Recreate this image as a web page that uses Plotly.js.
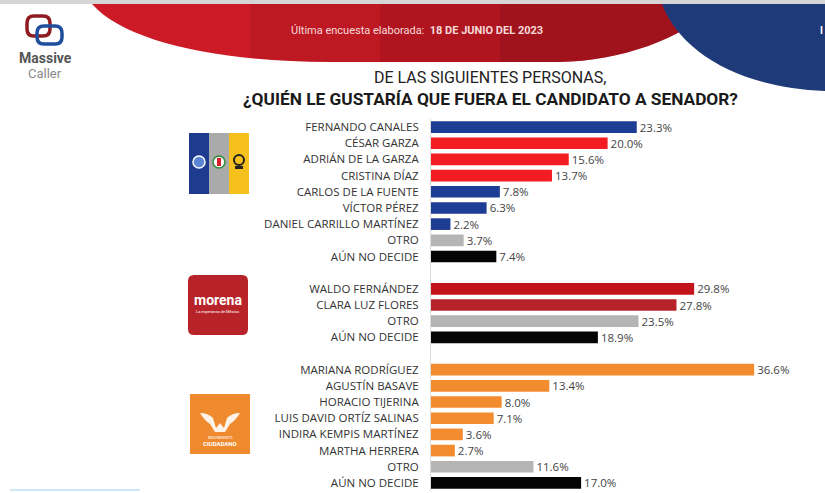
<!DOCTYPE html>
<html>
<head>
<meta charset="utf-8">
<script src="https://cdn.plot.ly/plotly-3.0.1.min.js"></script>
<style>html,body{margin:0;padding:0;background:#fff;}#chart{width:825px;height:493px;}</style>
</head>
<body>
<div id="chart"></div>
<script>
// ---- Data ----
const alianzaNames = ["FERNANDO CANALES","CÉSAR GARZA","ADRIÁN DE LA GARZA","CRISTINA DÍAZ","CARLOS DE LA FUENTE","VÍCTOR PÉREZ","DANIEL CARRILLO MARTÍNEZ","OTRO","AÚN NO DECIDE"];
const alianzaValues = [23.3, 20.0, 15.6, 13.7, 7.8, 6.3, 2.2, 3.7, 7.4];
const morenaNames = ["WALDO FERNÁNDEZ","CLARA LUZ FLORES","OTRO","AÚN NO DECIDE"];
const morenaValues = [29.8, 27.8, 23.5, 18.9];
const mcNames = ["MARIANA RODRÍGUEZ","AGUSTÍN BASAVE","HORACIO TIJERINA","LUIS DAVID ORTÍZ SALINAS","INDIRA KEMPIS MARTÍNEZ","MARTHA HERRERA","OTRO","AÚN NO DECIDE"];
const mcValues = [36.6, 13.4, 8.0, 7.1, 3.6, 2.7, 11.6, 17.0];

// ---- Styles ----
const BLUE="#1d3c93", RED="#f21c22", GRAY="#b5b5b5", BLACK="#050505";
const alianzaColors=[BLUE,RED,RED,RED,BLUE,BLUE,BLUE,GRAY,BLACK];
const morenaColors=["#c3141b","#b8232a",GRAY,BLACK];
const ORANGE="#f28c2e";
const mcColors=[ORANGE,ORANGE,ORANGE,ORANGE,ORANGE,ORANGE,GRAY,BLACK];

// build rows with a blank slot between groups
const groups=[[alianzaNames,alianzaValues,alianzaColors],[morenaNames,morenaValues,morenaColors],[mcNames,mcValues,mcColors]];
let ys=[],xs=[],labels=[],cols=[],pos=0;
groups.forEach((g,gi)=>{
  g[0].forEach((n,i)=>{ys.push(pos);xs.push(g[1][i]);labels.push(n);cols.push(g[2][i]);pos++;});
  pos++;
});
const lastIdx=ys[ys.length-1];

const W=825,H=493;
const plotLeft=431, plotTop=119, plotBottom=491;
const pxPerPct=8.83;

const FONT="Open Sans, sans-serif";

const traces=[{
  type:"bar",orientation:"h",x:xs,y:ys,
  marker:{color:cols,line:{width:0}},
  width:0.72,
  texttemplate:"%{x:.1f}%",textposition:"outside",cliponaxis:false,constraintext:"none",
  textfont:{family:FONT,size:11.5,color:"#444"},
  hoverinfo:"skip",xaxis:"x",yaxis:"y"
},{
  type:"scatter",x:[],y:[],xaxis:"x2",yaxis:"y2",hoverinfo:"skip",showlegend:false
}];

function rrect(x0,y0,x1,y1,r){
  return `M ${x0+r} ${y0} L ${x1-r} ${y0} Q ${x1} ${y0} ${x1} ${y0+r} L ${x1} ${y1-r} Q ${x1} ${y1} ${x1-r} ${y1} L ${x0+r} ${y1} Q ${x0} ${y1} ${x0} ${y1-r} L ${x0} ${y0+r} Q ${x0} ${y0} ${x0+r} ${y0} Z`;
}
const S=(o)=>Object.assign({xref:"x2",yref:"y2",layer:"below"},o);
const shapes=[
  S({type:"rect",x0:0,x1:825,y0:0,y1:4,fillcolor:"#d6d6d6",line:{width:0}}),
  // red swoosh with stepped gradient
  S({type:"path",path:"M 92 4 C 125 42, 220 62, 330 62 L 560 62 C 620 61, 680 40, 720 4 Z",fillcolor:"#cc1b26",line:{width:0}}),
  S({type:"path",path:"M 250 4 L 250 57 C 280 61, 300 62, 330 62 L 560 62 C 620 61, 680 40, 720 4 Z",fillcolor:"rgba(90,10,12,0.12)",line:{width:0}}),
  S({type:"path",path:"M 380 4 L 380 62 L 560 62 C 620 61, 680 40, 720 4 Z",fillcolor:"rgba(90,10,12,0.14)",line:{width:0}}),
  S({type:"path",path:"M 500 4 L 500 62 L 560 62 C 620 61, 680 40, 720 4 Z",fillcolor:"rgba(90,10,12,0.16)",line:{width:0}}),
  // blue swoosh
  S({type:"path",path:"M 662 4 C 680 52, 740 88, 825 91 L 825 4 Z",fillcolor:"#1f3a78",line:{width:0}}),
  // Massive Caller icon
  S({type:"path",path:rrect(27,16,50,36,7),fillcolor:"rgba(0,0,0,0)",line:{color:"#8e1b1f",width:3.5}}),
  S({type:"path",path:rrect(37,26,62,44,7),fillcolor:"rgba(0,0,0,0)",line:{color:"#1f4e9c",width:3.5}}),
  // PAN-PRI-PRD block
  S({type:"rect",x0:189,x1:209,y0:133,y1:194,fillcolor:"#1e3b8f",line:{width:0}}),
  S({type:"rect",x0:209,x1:229,y0:133,y1:194,fillcolor:"#aaaaaa",line:{width:0}}),
  S({type:"rect",x0:229,x1:249,y0:133,y1:194,fillcolor:"#f6c11c",line:{width:0}}),
  S({type:"circle",x0:193,x1:205,y0:156,y1:168,fillcolor:"#5b86d6",line:{color:"#ffffff",width:1.5}}),
  S({type:"circle",x0:213,x1:225,y0:156,y1:168,fillcolor:"#ffffff",line:{color:"#2e8b3a",width:1.5}}),
  S({type:"rect",x0:217,x1:221,y0:158,y1:166,fillcolor:"#d61f26",line:{width:0}}),
  S({type:"circle",x0:234,x1:244,y0:155,y1:165,fillcolor:"rgba(0,0,0,0)",line:{color:"#222",width:2}}),
  S({type:"rect",x0:235,x1:243,y0:166,y1:169,fillcolor:"#222",line:{width:0}}),
  // morena block
  S({type:"path",path:rrect(188,275,248,335,6),fillcolor:"#b8232a",line:{width:0}}),
  // MC block
  S({type:"rect",x0:190,x1:250,y0:394,y1:454,fillcolor:"#f08a2f",line:{width:0}}),
  S({type:"path",path:"M 200 413 Q 208 413 213 418 L 216 428 L 220 423 L 224 428 L 227 418 Q 232 413 240 413 Q 236 420 230 424 L 225 432 L 215 432 L 210 424 Q 204 420 200 413 Z",fillcolor:"#fff2e6",line:{width:0}}),
  // faint bottom-left line
  S({type:"line",x0:10,x1:140,y0:490,y1:490,line:{color:"#cfe6f5",width:2}})
];

const A=(o)=>Object.assign({xref:"x2",yref:"y2",showarrow:false,font:{family:FONT}},o);
const annotations=[
  A({x:417,y:30,text:"Última encuesta elaborada:  <b>18 DE JUNIO DEL 2023</b>",font:{family:"Roboto, sans-serif",size:11,color:"#f6dada"}}),
  A({x:490,y:77,text:"DE LAS SIGUIENTES PERSONAS,",font:{family:"Roboto, sans-serif",size:16,color:"#222"}}),
  A({x:490,y:99,text:"<b>¿QUIÉN LE GUSTARÍA QUE FUERA EL CANDIDATO A SENADOR?</b>",font:{family:"Roboto, sans-serif",size:17.3,color:"#1a1a1a"}}),
  A({x:45,y:58,text:"<b>Massive</b>",font:{family:"Roboto, sans-serif",size:14,color:"#555"}}),
  A({x:45,y:73,text:"Caller",font:{family:"Roboto, sans-serif",size:13,color:"#8a8a8a"}}),
  A({x:218,y:300,text:"<b>morena</b>",font:{family:"Roboto, sans-serif",size:14,color:"#ffffff"}}),
  A({x:218,y:311,text:"La esperanza de México",font:{family:"Roboto, sans-serif",size:4,color:"#ffffff"}}),
  A({x:220,y:437,text:"MOVIMIENTO",font:{family:"Roboto, sans-serif",size:4,color:"#ffffff"}}),
  A({x:220,y:443,text:"<b>CIUDADANO</b>",font:{family:"Roboto, sans-serif",size:6,color:"#ffffff"}}),
  A({x:821,y:30,text:"<b>I</b>",font:{family:"Roboto, sans-serif",size:10,color:"#ffffff"}})
];

const layout={
  width:W,height:H,autosize:false,
  margin:{l:0,r:0,t:0,b:0,pad:0},
  paper_bgcolor:"#ffffff",plot_bgcolor:"rgba(0,0,0,0)",
  showlegend:false,
  xaxis:{domain:[plotLeft/W,1],range:[0,(W-plotLeft)/pxPerPct],showgrid:false,zeroline:false,showticklabels:false,ticks:"",fixedrange:true},
  yaxis:{domain:[(H-plotBottom)/H,(H-plotTop)/H],range:[lastIdx+0.5,-0.5],tickmode:"array",tickvals:ys,ticktext:labels,
    showgrid:false,zeroline:false,ticks:"",ticklabelstandoff:9,showline:true,linecolor:"#dddddd",linewidth:1,
    tickfont:{family:FONT,size:11.5,color:"#333"},fixedrange:true},
  xaxis2:{domain:[0,1],range:[0,W],visible:false,anchor:"y2",fixedrange:true},
  yaxis2:{domain:[0,1],range:[H,0],visible:false,anchor:"x2",fixedrange:true},
  shapes:shapes,annotations:annotations
};
Plotly.newPlot("chart",traces,layout,{staticPlot:true,displayModeBar:false});
</script>
</body>
</html>
